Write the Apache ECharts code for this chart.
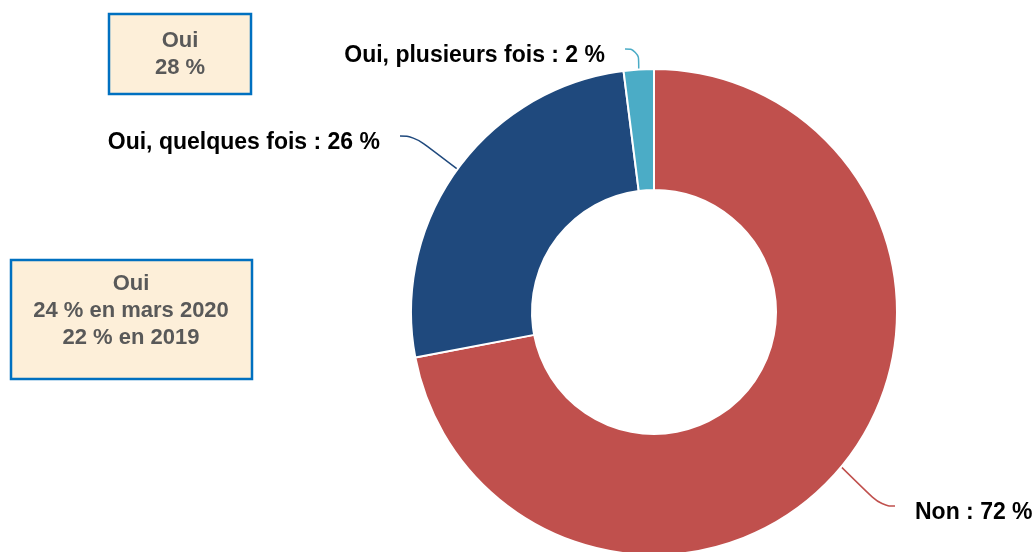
<!DOCTYPE html>
<html>
<head>
<meta charset="utf-8">
<script src="https://cdn.jsdelivr.net/npm/echarts@6/dist/echarts.min.js"></script>
<style>
  html, body { margin: 0; padding: 0; background: #fff; }
  #main { width: 1034px; height: 552px; }
</style>
</head>
<body>
<div id="main"></div>
<script>
// données
const categories = ["Non", "Oui, quelques fois", "Oui, plusieurs fois"];
const values = [72, 26, 2];
const colors = ["#C0504D", "#1F497D", "#4BACC6"];
const box1Lines = ["Oui", "28 %"];
const box2Lines = ["Oui", "24 % en mars 2020", "22 % en 2019"];

// positions des étiquettes (x, y, alignement)
const labelPos = [
  { x: 895, y: 513, align: "left" },
  { x: 400, y: 143, align: "right" },
  { x: 625, y: 56, align: "right" }
];

var myChart = echarts.init(document.getElementById("main"));

const boxStyle = {
  fill: "#FDEFD9",
  stroke: "#0070C0",
  lineWidth: 2.5
};
const boxText = {
  fill: "#595959",
  font: "bold 22px 'Liberation Sans', Arial, sans-serif",
  textAlign: "center",
  lineHeight: 27
};

const options = {
  backgroundColor: "#fff",
  animation: false,
  graphic: [
    {
      type: "rect",
      shape: { x: 109, y: 14, width: 142, height: 80 },
      style: boxStyle
    },
    {
      type: "text",
      x: 180,
      y: 27,
      style: Object.assign({ text: box1Lines.join("\n") }, boxText)
    },
    {
      type: "rect",
      shape: { x: 11, y: 260, width: 241, height: 119 },
      style: boxStyle
    },
    {
      type: "text",
      x: 131,
      y: 270,
      style: Object.assign({ text: box2Lines.join("\n") }, boxText)
    }
  ],
  series: [
    {
      type: "pie",
      center: [654, 312],
      radius: [122, 243],
      startAngle: 90,
      clockwise: true,
      itemStyle: { borderColor: "#fff", borderWidth: 2 },
      label: {
        show: true,
        formatter: function (p) {
          return p.name + " : " + p.value + " %";
        },
        color: "#000",
        fontWeight: "bold",
        fontSize: 23,
        fontFamily: "'Liberation Sans', Arial, sans-serif",
        overflow: "none",
        padding: [0, 20, 0, 20],
        backgroundColor: "rgba(255,255,255,0)"
      },
      labelLine: {
        show: true,
        smooth: 0.5,
        lineStyle: { width: 1.5 }
      },
      labelLayout: function (params) {
        const p = labelPos[params.dataIndex];
        const res = {
          x: p.x,
          y: p.y,
          align: p.align,
          verticalAlign: "middle",
          width: 300,
          moveOverlap: false
        };
        const pts = params.labelLinePoints;
        if (pts && pts.length) {
          // départ sur le bord de la part, fin un peu au-dessus du centre du texte
          const start = pts[0];
          const end = [p.x, p.y - 7];
          const dir = start[0] > end[0] ? 1 : -1;
          const mid = [end[0] + dir * Math.min(14, Math.abs(start[0] - end[0])), end[1]];
          res.labelLinePoints = [start, mid, end];
        }
        return res;
      },
      data: categories.map(function (c, i) {
        return {
          name: c,
          value: values[i],
          itemStyle: { color: colors[i] },
          labelLine: { lineStyle: { color: colors[i] } }
        };
      })
    }
  ]
};
myChart.setOption(options);
</script>
</body>
</html>
